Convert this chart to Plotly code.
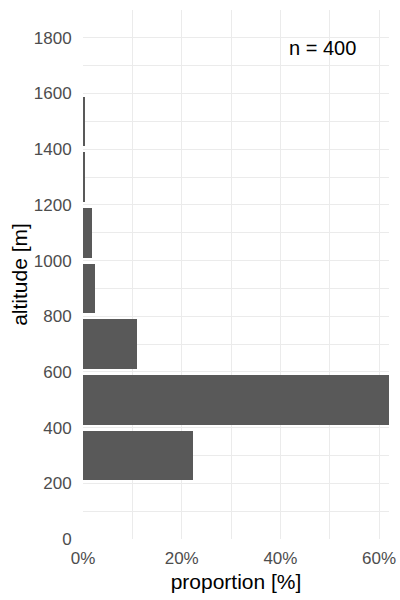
import plotly.graph_objects as go

# Data: altitude bins (lower edges, 200 m wide) and proportion in percent (n = 400)
bin_lower = [200, 400, 600, 800, 1000, 1200, 1400]
bin_width_m = 200
proportion_pct = [22.25, 62.0, 11.0, 2.5, 1.75, 0.25, 0.25]
n_total = 400
x_ticks = [0, 20, 40, 60]
x_tick_labels = [f"{v}%" for v in x_ticks]
y_ticks = [0, 200, 400, 600, 800, 1000, 1200, 1400, 1600, 1800]

y_centers = [b + bin_width_m / 2 for b in bin_lower]

fig = go.Figure()
fig.add_trace(go.Bar(
    x=proportion_pct,
    y=y_centers,
    orientation="h",
    width=178,
    marker=dict(color="#595959", line=dict(width=0)),
    hoverinfo="skip",
))

FONT = "Liberation Sans, Arial, sans-serif"

fig.update_layout(
    width=400, height=600,
    margin=dict(l=83, r=11, t=10, b=61, autoexpand=False),
    paper_bgcolor="white", plot_bgcolor="white",
    showlegend=False,
    font=dict(family=FONT, color="#4d4d4d", size=17),
    bargap=0,
)

fig.update_xaxes(
    range=[0, 62],
    tickvals=x_ticks,
    ticktext=x_tick_labels,
    automargin=False,
    showgrid=True, gridcolor="#ebebeb", gridwidth=1.2,
    minor=dict(tickvals=[10, 30, 50], showgrid=True, gridcolor="#ebebeb", gridwidth=0.7),
    zeroline=False, showline=False,
    ticks="outside", ticklen=4, tickcolor="rgba(0,0,0,0)",
    tickfont=dict(size=17, color="#4d4d4d"),
    title=dict(text="proportion [%]", font=dict(size=21, color="black"), standoff=6),
)

fig.update_yaxes(
    range=[0, 1900],
    tickvals=y_ticks,
    automargin=False,
    showgrid=True, gridcolor="#ebebeb", gridwidth=1.2,
    minor=dict(tickvals=[100, 300, 500, 700, 900, 1100, 1300, 1500, 1700],
               showgrid=True, gridcolor="#ebebeb", gridwidth=0.7),
    zeroline=False, showline=False,
    ticks="outside", ticklen=7, tickcolor="rgba(0,0,0,0)",
    tickfont=dict(size=17, color="#4d4d4d"),
    title=dict(text="altitude [m]", font=dict(size=21, color="black"), standoff=0),
)

fig.add_annotation(
    x=48.5, y=1765, xref="x", yref="y",
    text=f"n = {n_total}", showarrow=False,
    font=dict(family=FONT, size=20, color="black"),
)

fig.write_html("out.html")
